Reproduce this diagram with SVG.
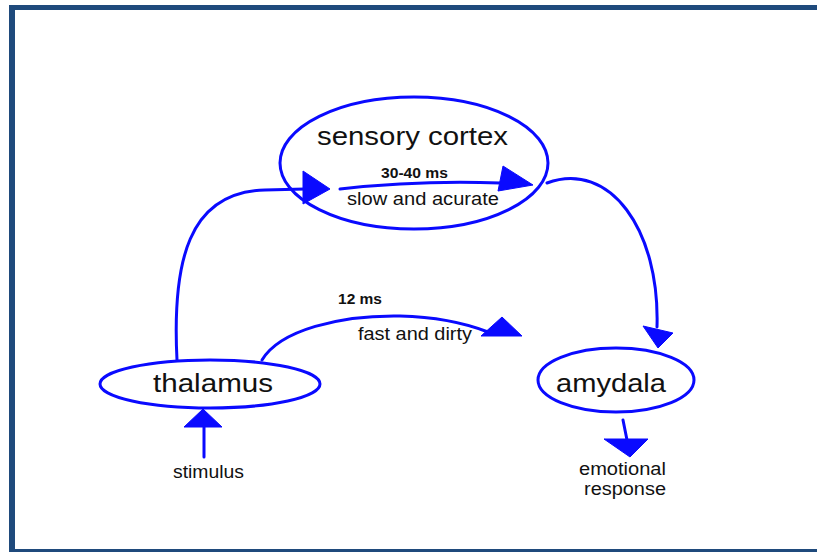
<svg xmlns="http://www.w3.org/2000/svg" width="817" height="552" viewBox="0 0 817 552">
  <style>
    .node { fill: none; stroke: #0a0aff; stroke-width: 3; }
    .link { fill: none; stroke: #0a0aff; stroke-width: 3; stroke-linecap: round; }
    .head { fill: #0a0aff; stroke: #0a0aff; stroke-width: 1; stroke-linejoin: round; }
    .lbl  { font-family: "Liberation Sans", Arial, sans-serif; fill: #111; }
    .big  { font-size: 26px; }
    .mid  { font-size: 17.5px; }
    .bold { font-size: 15.5px; font-weight: bold; }
  </style>

  <rect width="817" height="552" fill="#ffffff"/>

  <!-- frame: top, left and bottom bars -->
  <g id="frame" fill="#1f4a7c">
    <rect x="9" y="5" width="808" height="5"/>
    <rect x="9" y="5" width="6" height="547"/>
    <rect x="9" y="549" width="808" height="3"/>
  </g>

  <g id="connectors">
    <!-- thalamus up to sensory cortex -->
    <path class="link" d="M177,360 C172,262 188,192 265,190 L305,189"/>
    <polygon class="head" points="303,171 330,189 303,204"/>
    <!-- slow path through the cortex -->
    <path class="link" d="M340,189 Q420,180 500,183"/>
    <polygon class="head" points="503,166 533,185 498,191"/>
    <!-- cortex down to amygdala -->
    <path class="link" d="M547,183 C610,160 660,230 657,327"/>
    <polygon class="head" points="643,326 673,333 658,348"/>
    <!-- fast path from thalamus -->
    <path class="link" d="M262,360 C280,330 340,315 400,316 C440,317 470,325 488,332"/>
    <polygon class="head" points="481,336 502,317 522,336"/>
    <!-- stimulus into thalamus -->
    <path class="link" d="M204,457 L204,425"/>
    <polygon class="head" points="184,427 222,427 203,409"/>
    <!-- amygdala to response -->
    <path class="link" d="M623,420 L627,440"/>
    <polygon class="head" points="604,439 648,439 630,457"/>
  </g>

  <g id="sensory-cortex">
    <ellipse class="node" cx="414" cy="163" rx="134" ry="66"/>
    <text class="lbl big" x="317" y="145" textLength="191" lengthAdjust="spacingAndGlyphs">sensory cortex</text>
  </g>

  <g id="thalamus">
    <ellipse class="node" cx="210" cy="384" rx="110" ry="24"/>
    <text class="lbl big" x="153" y="392" textLength="120" lengthAdjust="spacingAndGlyphs">thalamus</text>
  </g>

  <g id="amygdala">
    <ellipse class="node" cx="616" cy="380" rx="78" ry="32"/>
    <text class="lbl big" x="556" y="392" textLength="110" lengthAdjust="spacingAndGlyphs">amydala</text>
  </g>

  <g id="labels">
    <text class="lbl bold" x="381" y="178" textLength="67" lengthAdjust="spacingAndGlyphs">30-40 ms</text>
    <text class="lbl mid" x="347" y="205" textLength="152" lengthAdjust="spacingAndGlyphs">slow and acurate</text>
    <text class="lbl bold" x="338" y="304" textLength="44" lengthAdjust="spacingAndGlyphs">12 ms</text>
    <text class="lbl mid" x="358" y="340" textLength="114" lengthAdjust="spacingAndGlyphs">fast and dirty</text>
    <text class="lbl mid" x="173" y="478" textLength="71" lengthAdjust="spacingAndGlyphs">stimulus</text>
    <text class="lbl mid" x="579" y="475" textLength="87" lengthAdjust="spacingAndGlyphs">emotional</text>
    <text class="lbl mid" x="584" y="495" textLength="82" lengthAdjust="spacingAndGlyphs">response</text>
  </g>
</svg>
